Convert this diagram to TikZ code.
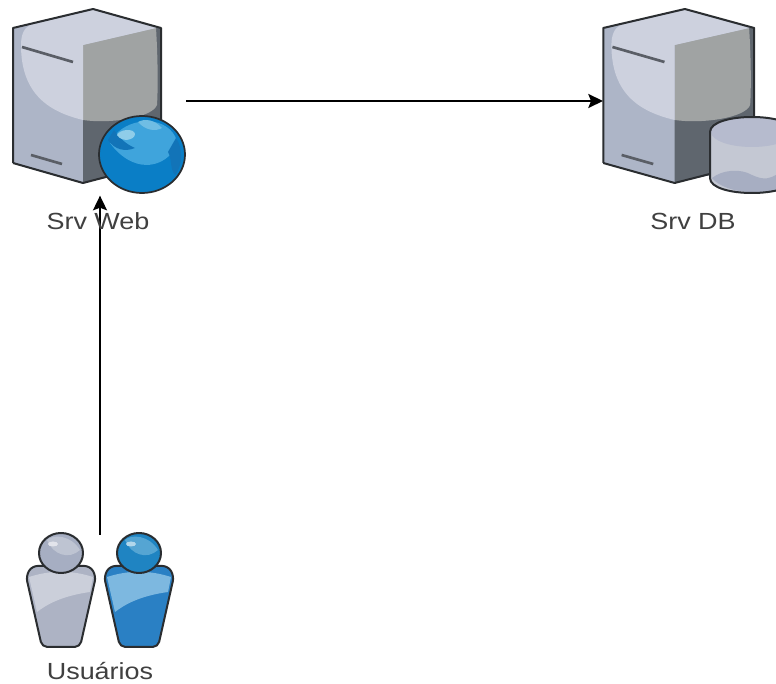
\documentclass[tikz,border=0pt]{standalone}
\usepackage{fontspec}
\setmainfont{Liberation Sans}
\usetikzlibrary{arrows.meta}
\definecolor{outl}{HTML}{2A2D30}
\definecolor{lighttop}{HTML}{CDD1DE}
\definecolor{lowleft}{HTML}{ADB5C7}
\definecolor{midgrey}{HTML}{A0A3A3}
\definecolor{darkgrey}{HTML}{5F666E}
\definecolor{stripe}{HTML}{5A5E66}
\definecolor{labelc}{HTML}{404040}
\definecolor{gbase}{HTML}{0A7EC6}
\definecolor{glight}{HTML}{3FA4DC}
\definecolor{ghigh}{HTML}{8FCDE9}
\definecolor{gdark}{HTML}{1274B8}
\definecolor{cylbody}{HTML}{C4C8D3}
\definecolor{cyltop}{HTML}{B6BBCE}
\definecolor{cylbase}{HTML}{A7AEC2}
\definecolor{ubase}{HTML}{ADB3C4}
\definecolor{ulight}{HTML}{CBCFDA}
\definecolor{uhead}{HTML}{A6AEC2}
\definecolor{uheadl}{HTML}{BEC4D2}
\definecolor{bbase}{HTML}{2A80C4}
\definecolor{blight}{HTML}{7DB8E0}
\definecolor{bhead}{HTML}{1F84C2}
\definecolor{bheadl}{HTML}{55A5D3}
\tikzset{
  x=0.75pt,y=-0.75pt,
  iconbox/.style={inner sep=0pt,outer sep=0pt,draw=none,fill=none},
  lbl/.style={text=labelc,font=\fontsize{17.5pt}{20pt}\selectfont,inner sep=0pt},
  link/.style={draw=black,line width=1.5pt,-{Stealth[length=11pt,width=10.5pt,inset=2pt]}},
  iconline/.style={draw=outl,line width=1.5pt,line join=round},
}
\newcommand{\srvicon}[2]{%
\begin{scope}[shift={(#1,0)},xscale=#2]
  \path[fill=lowleft] (13,28) -- (93,9) -- (161,28) -- (161,165) -- (83,183) -- (13,163) -- cycle;
  \path[fill=darkgrey] (83,120) -- (161,100) -- (161,165) -- (83,183) -- cycle;
  \path[fill=darkgrey] (155,28) -- (161,28) -- (161,125) -- (155,125) -- cycle;
  \path[fill=midgrey] (83,45) -- (156,28) .. controls (158,60) and (158,90) .. (157,105)
     .. controls (152,118) and (110,124) .. (83,120) -- cycle;
  \path[fill=lighttop] (21,45) .. controls (21,35) and (24,28) .. (30,25) -- (93,10) -- (156,28) -- (83,45) -- (83,120)
     .. controls (50,112) and (21,95) .. (21,45) -- cycle;
  \path[iconline,fill=none] (13,163) -- (13,28) -- (93,9) -- (161,28) -- (161,125);
  \path[iconline,fill=none] (13,163) -- (83,183) -- (125,172);
  \draw[stripe,line width=2pt] (22,47) -- (73,62);
  \draw[stripe,line width=2pt] (31,155) -- (62,164);
\end{scope}}
\newcommand{\usricon}[5]{%
\begin{scope}[shift={(#1,0)}]
  \path[iconline,fill=#2,rounded corners=4pt] (-35,576) -- (-29,566) -- (29,566) -- (35,576) -- (19,647) -- (-19,647) -- cycle;
  \path[fill=#3] (-32,577) .. controls (-10,570) and (10,570) .. (32,577) -- (29,592) .. controls (0,596) and (-15,605) .. (-24,612) -- cycle;
  \path[iconline,fill=#4] (0,553) ellipse (22 and 20);
  \path[fill=#5] (-14,540) .. controls (-8,534) and (10,535) .. (19,550) .. controls (8,560) and (-8,555) .. (-14,540) -- cycle;
  \path[fill=white!55!#5] (-8,544) ellipse (5 and 2.5);
\end{scope}}
\begin{document}
\begin{tikzpicture}
\useasboundingbox (0,0) rectangle (776,684);
\clip (0,0) rectangle (776,684);
\fill[white] (0,0) rectangle (776,684);
% web server
\srvicon{0}{1}
\path[fill=gbase,draw=outl,line width=1.3pt] (142,154.5) ellipse (43 and 38.5);
\path[fill=glight] (110,143) .. controls (120,120) and (158,113) .. (173,133) .. controls (180,143) and (178,150) .. (172,153)
   .. controls (155,172) and (128,168) .. (110,143) -- cycle;
\path[fill=gdark] (108,140) .. controls (115,150) and (125,152) .. (135,148) .. controls (125,144) and (118,136) .. (114,130) -- cycle;
\path[fill=ghigh] (117,135) .. controls (120,129) and (134,128) .. (135,134) .. controls (135,140) and (122,143) .. (117,135) -- cycle;
\path[fill=ghigh!60!glight] (138,122) .. controls (145,118) and (155,120) .. (162,128) .. controls (155,132) and (145,130) .. (138,122) -- cycle;
\path[fill=gdark] (176,138) .. controls (183,148) and (183,165) .. (175,175) .. controls (170,170) and (172,158) .. (168,152) -- cycle;
% db server
\srvicon{590}{1.02}
\path[fill=cylbody] (710,132) -- (710,178) .. controls (710,198) and (794,198) .. (794,178) -- (794,132) -- cycle;
\path[fill=cylbase] (712,178) .. controls (722,170) and (740,168) .. (752,175) .. controls (765,181) and (770,178) .. (776,175) -- (776,192) -- (750,192) .. controls (735,192) and (718,186) .. (712,178) -- cycle;
\path[fill=cyltop] (752,132) ellipse (41 and 15);
\path[draw=outl,line width=1.5pt,fill=none,line join=round] (794,178) .. controls (794,198) and (710,198) .. (710,178) -- (710,132) .. controls (710,112) and (794,112) .. (794,132);
% users
\usricon{61}{ubase}{ulight}{uhead}{uheadl}
\usricon{139}{bbase}{blight}{bhead}{bheadl}
% named anchors of the icons
\node[iconbox,minimum width=129.75pt,minimum height=138pt] (web) at (99.5,101) {};
\node[iconbox,minimum width=129.75pt,minimum height=138pt] (db) at (689.5,101) {};
\node[iconbox,minimum width=111pt,minimum height=84.75pt] (users) at (100,591.5) {};
% connectors
\draw[link] (web.east) -- (db.west);
\draw[link,shorten >=2pt] (users.north) -- (users.north |- web.south);
% labels
\node[lbl] (webl) at (98,221) {\scalebox{1.155}[1]{Srv Web}};
\node[lbl] (dbl) at (693,221) {\scalebox{1.155}[1]{Srv DB}};
\node[lbl] (usl) at (100,671.5) {\scalebox{1.155}[1]{Usuários}};
\end{tikzpicture}
\end{document}
